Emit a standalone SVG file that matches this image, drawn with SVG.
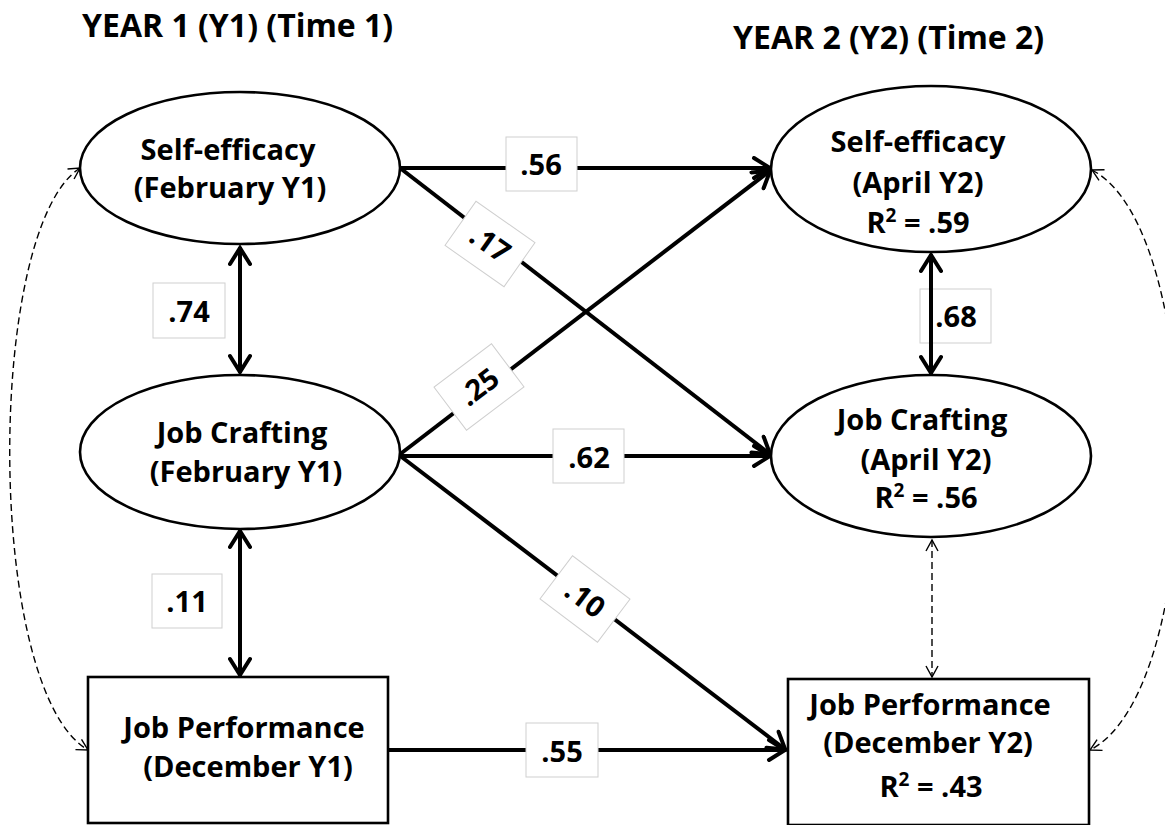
<svg xmlns="http://www.w3.org/2000/svg" width="1165" height="825" viewBox="0 0 1165 825">
<style>
  text { font-family: "Open Sans", "Liberation Sans", sans-serif; font-weight: bold; fill: #000; }
  .title { font-size: 32px; }
  .nt { font-size: 29px; text-anchor: middle; }
  .lt { font-size: 29px; text-anchor: middle; }
  .node { fill: #fff; stroke: #000; stroke-width: 2.6; }
  .lbl { fill: #fff; stroke: #cfcfcf; stroke-width: 1; }
  .edge { fill: none; stroke: #000; stroke-width: 4; }
  .dash { fill: none; stroke: #000; stroke-width: 1.4; stroke-dasharray: 7 4; }
</style>
<defs>
  <marker id="ah" markerUnits="userSpaceOnUse" viewBox="-20 -12 24 24" markerWidth="24" markerHeight="24" refX="1" refY="0" orient="auto-start-reverse">
    <path d="M-16,-10 L0,0 L-16,10" fill="none" stroke="#000" stroke-width="4" stroke-linecap="round" stroke-linejoin="miter"/>
  </marker>
  <marker id="dh" markerUnits="userSpaceOnUse" viewBox="-14 -8 16 16" markerWidth="16" markerHeight="16" refX="0" refY="0" orient="auto-start-reverse">
    <path d="M-11,-6 L0,0 L-11,6" fill="none" stroke="#000" stroke-width="1.4"/>
  </marker>
</defs>
<rect width="1165" height="825" fill="#fff"/>

<g id="titles">
  <text class="title" x="82" y="37">YEAR 1 (Y1) (Time 1)</text>
  <text class="title" x="733" y="49">YEAR 2 (Y2) (Time 2)</text>
</g>

<g id="label-68">
  <rect class="lbl" x="920" y="289" width="71" height="54"/>
  <text class="lt" x="956" y="327">.68</text>
</g>

<g id="connectors">
  <line class="edge" x1="400" y1="168" x2="771" y2="168" marker-end="url(#ah)"/>
  <line class="edge" x1="400" y1="168" x2="771" y2="455" marker-end="url(#ah)"/>
  <line class="edge" x1="399" y1="455" x2="771" y2="170" marker-end="url(#ah)"/>
  <line class="edge" x1="399" y1="456" x2="771" y2="456" marker-end="url(#ah)"/>
  <line class="edge" x1="399" y1="455" x2="786" y2="750" marker-end="url(#ah)"/>
  <line class="edge" x1="388" y1="750" x2="786" y2="750" marker-end="url(#ah)"/>
  <line class="edge" x1="240" y1="247" x2="240" y2="373" marker-start="url(#ah)" marker-end="url(#ah)"/>
  <line class="edge" x1="240" y1="530" x2="240" y2="676" marker-start="url(#ah)" marker-end="url(#ah)"/>
  <line class="edge" x1="931" y1="254" x2="931" y2="374" marker-start="url(#ah)" marker-end="url(#ah)"/>
  <line class="dash" x1="932" y1="540" x2="932" y2="677" marker-start="url(#dh)" marker-end="url(#dh)"/>
  <path class="dash" d="M80,168 C-15,230 -15,690 88,750" marker-start="url(#dh)" marker-end="url(#dh)"/>
  <path class="dash" d="M1092,170 C1208,230 1208,690 1090,750" marker-start="url(#dh)" marker-end="url(#dh)"/>
</g>

<g id="edge-labels">
  <g id="label-56"><rect class="lbl" x="506" y="137" width="71" height="54"/><text class="lt" x="541" y="175">.56</text></g>
  <g id="label-17" transform="translate(490,244) rotate(35)"><rect class="lbl" x="-36" y="-27" width="72" height="54"/><text class="lt" x="0" y="10">.17</text></g>
  <g id="label-25" transform="translate(479,387) rotate(-37)"><rect class="lbl" x="-36" y="-27" width="72" height="54"/><text class="lt" x="0" y="10">.25</text></g>
  <g id="label-62"><rect class="lbl" x="553" y="429" width="71" height="54"/><text class="lt" x="589" y="468">.62</text></g>
  <g id="label-10" transform="translate(585,599) rotate(37)"><rect class="lbl" x="-36" y="-27" width="72" height="54"/><text class="lt" x="0" y="10">.10</text></g>
  <g id="label-55"><rect class="lbl" x="526" y="723" width="72" height="54"/><text class="lt" x="562" y="762">.55</text></g>
  <g id="label-74"><rect class="lbl" x="153" y="283" width="72" height="55"/><text class="lt" x="189" y="322">.74</text></g>
  <g id="label-11"><rect class="lbl" x="152" y="574" width="70" height="54"/><text class="lt" x="187" y="612">.11</text></g>
</g>

<g id="node-se1">
  <ellipse class="node" cx="240" cy="168" rx="160" ry="76"/>
  <text class="nt" x="228" y="160">Self-efficacy</text>
  <text class="nt" x="230" y="198">(February Y1)</text>
</g>
<g id="node-jc1">
  <ellipse class="node" cx="240" cy="452" rx="160" ry="77"/>
  <text class="nt" x="242" y="443">Job Crafting</text>
  <text class="nt" x="246" y="482">(February Y1)</text>
</g>
<g id="node-jp1">
  <rect class="node" x="88" y="677" width="300" height="146" stroke-width="3"/>
  <text class="nt" x="244" y="738">Job Performance</text>
  <text class="nt" x="248" y="777">(December Y1)</text>
</g>
<g id="node-se2">
  <ellipse class="node" cx="931" cy="169" rx="160" ry="83"/>
  <text class="nt" x="918" y="152">Self-efficacy</text>
  <text class="nt" x="918" y="193">(April Y2)</text>
  <text class="nt" x="918" y="233">R<tspan font-size="19" dy="-11">2</tspan><tspan dy="11"> = .59</tspan></text>
</g>
<g id="node-jc2">
  <ellipse class="node" cx="931" cy="456" rx="160" ry="81"/>
  <text class="nt" x="922" y="430">Job Crafting</text>
  <text class="nt" x="926" y="470">(April Y2)</text>
  <text class="nt" x="926" y="508">R<tspan font-size="19" dy="-11">2</tspan><tspan dy="11"> = .56</tspan></text>
</g>
<g id="node-jp2">
  <rect class="node" x="788" y="679" width="301" height="146" stroke-width="3"/>
  <text class="nt" x="930" y="715">Job Performance</text>
  <text class="nt" x="928" y="753">(December Y2)</text>
  <text class="nt" x="931" y="797">R<tspan font-size="19" dy="-11">2</tspan><tspan dy="11"> = .43</tspan></text>
</g>
</svg>
